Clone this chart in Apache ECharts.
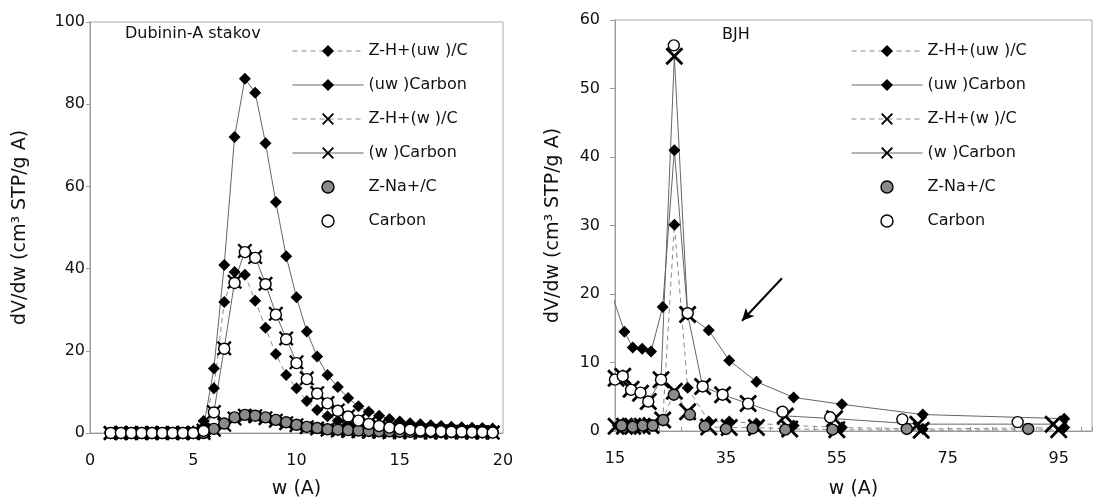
<!DOCTYPE html>
<html><head><meta charset="utf-8">
<script src="https://cdn.jsdelivr.net/npm/echarts@6/dist/echarts.min.js"></script>
<style>html,body{margin:0;padding:0;background:#fff}#c{width:1095px;height:504px}</style>
</head><body><div id="c"></div>
<script>
// ---------- DATA ----------
const seriesNames = ['Z-H+(uw )/C', '(uw )Carbon', 'Z-H+(w )/C', '(w )Carbon', 'Z-Na+/C', 'Carbon'];

// Left panel: Dubinin-Astakov, common x values
const leftX = [1,1.5,2,2.5,3,3.5,4,4.5,5,5.5,6,6.5,7,7.5,8,8.5,9,9.5,10,10.5,11,11.5,12,12.5,13,13.5,14,14.5,15,15.5,16,16.5,17,17.5,18,18.5,19,19.5];
const leftZHuw = [0,0,0,0,0,0,0,0,0.2,2.9,10.9,31.9,39.2,38.5,32.2,25.6,19.2,14.1,10.9,7.8,5.6,4.1,3.0,2.2,1.6,1.2,0.9,0.7,0.5,0.4,0.3,0.3,0.2,0.2,0.2,0.1,0.1,0.1];
const leftUw   = [0,0,0,0,0,0,0,0,0.4,1.5,15.7,40.9,72.0,86.2,82.8,70.5,56.2,43.0,33.0,24.7,18.6,14.1,11.2,8.5,6.5,5.2,4.2,3.4,2.8,2.4,2.1,1.9,1.7,1.5,1.4,1.3,1.2,1.1];
const leftZHw  = [0,0,0,0,0,0,0,0,0,0,0.8,2.0,3.5,4.2,4.1,3.6,3.0,2.4,1.9,1.4,1.1,0.8,0.6,0.5,0.4,0.3,0.3,0.2,0.2,0.2,0.1,0.1,0.1,0.1,0.1,0.1,0.1,0.1];
const leftW    = [0,0,0,0,0,0,0,0,0,0.6,5.1,20.6,36.8,44.3,42.8,36.3,29.0,23.0,17.2,13.3,9.7,7.3,5.5,4.1,3.1,2.3,1.7,1.3,1.0,0.8,0.6,0.5,0.4,0.3,0.3,0.2,0.2,0.1];
const leftNa   = [0,0,0,0,0,0,0,0,0,0,1.0,2.3,3.8,4.4,4.2,3.8,3.2,2.6,2.0,1.5,1.2,0.9,0.8,0.7,0.6,0.5,0.4,0.4,0.3,0.3,0.3,0.2,0.2,0.2,0.2,0.2,0.2,0.2];
const leftC    = [0,0,0,0,0,0,0,0,0,0.5,5.0,20.5,36.5,44.0,42.6,36.2,28.8,22.8,17.0,13.1,9.6,7.2,5.4,4.0,3.0,2.2,1.7,1.3,1.0,0.8,0.6,0.5,0.4,0.3,0.3,0.2,0.2,0.1];

// Right panel: BJH
const rZHuwX = [15.5,16.7,18.2,19.9,21.5,23.6,25.7,28.1,31.9,35.6,40.5,47.2,55.9,70.5,96.0];
const rZHuwY = [0.8,0.8,0.8,0.8,0.9,1.5,30.1,6.3,1.4,1.4,1.1,0.8,0.5,0.3,0.5];
const rUwX   = [14.0,16.7,18.2,19.9,21.5,23.6,25.7,28.1,31.9,35.6,40.5,47.2,55.9,70.5,96.0];
const rUwY   = [21.0,14.5,12.2,12.0,11.6,18.1,41.0,17.0,14.7,10.3,7.2,4.9,3.9,2.4,1.8];
const rZHwX  = [15.2,16.7,18.2,19.9,21.5,23.6,25.7,28.1,31.9,35.6,40.5,46.5,55.0,70.2,95.0];
const rZHwY  = [0.7,0.7,0.7,0.7,0.8,1.6,5.8,2.8,0.6,0.5,0.5,0.3,0.2,0.1,0.2];
const rWX    = [15.2,16.4,17.9,19.6,21.0,23.3,25.7,28.1,30.8,34.4,39.0,45.7,54.6,69.6,94.0];
const rWY    = [7.7,8.0,6.1,5.5,4.3,7.5,54.7,17.0,6.5,5.3,4.0,2.2,1.8,1.0,1.0];
const rNaX   = [16.2,18.2,20.0,21.8,23.7,25.6,28.5,31.2,35.0,39.8,45.7,54.2,67.6,89.5];
const rNaY   = [0.8,0.6,0.8,0.8,1.6,5.3,2.4,0.7,0.3,0.4,0.2,0.2,0.3,0.3];
const rCX    = [15.0,16.4,17.9,19.6,21.0,23.3,25.6,28.1,30.8,34.4,39.0,45.2,53.8,66.8,87.6];
const rCY    = [7.5,8.0,6.0,5.6,4.3,7.5,56.3,17.2,6.5,5.3,4.0,2.8,2.0,1.7,1.3];

// annotation arrow (data coordinates)
const arrowFrom = [45.1, 22.3];
const arrowTo = [37.9, 16.1];

// tick labels
const leftXTicks = [0,5,10,15,20];
const leftYTicks = [0,20,40,60,80,100];
const rightXTicks = [15,35,55,75,95];
const rightYTicks = [0,10,20,30,40,50,60];

// ---------- STYLE ----------
const FONT = '"DejaVu Sans", Verdana, sans-serif';
const TXT = '#111';
const AX = '#9a9a9a';
const XSYM = 'path://M0,1.1L1.1,0L5,3.9L8.9,0L10,1.1L6.1,5L10,8.9L8.9,10L5,6.1L1.1,10L0,8.9L3.9,5Z';
const defs = {
  'Z-H+(uw )/C': {symbol:'diamond', size:[12,12], fill:'#000', bc:'#000', bw:0, lc:'#8a8a8a', lt:[5,4]},
  '(uw )Carbon': {symbol:'diamond', size:[12,12], fill:'#000', bc:'#000', bw:0, lc:'#666', lt:'solid'},
  'Z-H+(w )/C':  {symbol:XSYM, size:[15,18], fill:'#000', bc:'#000', bw:0, lc:'#8a8a8a', lt:[5,4]},
  '(w )Carbon':  {symbol:XSYM, size:[15,18], fill:'#000', bc:'#000', bw:0, lc:'#666', lt:'solid'},
  'Z-Na+/C':     {symbol:'circle', size:[11,11], fill:'#8a8a8a', bc:'#000', bw:1.4, lc:'rgba(0,0,0,0)', lt:'solid'},
  'Carbon':      {symbol:'circle', size:[11,11], fill:'#fff', bc:'#000', bw:1.4, lc:'rgba(0,0,0,0)', lt:'solid'}
};

function pairs(xs, ys){ return xs.map((x,i)=>[x, ys[i]]); }

const leftData = {
  'Z-H+(uw )/C': pairs(leftX, leftZHuw),
  '(uw )Carbon': pairs(leftX, leftUw),
  'Z-H+(w )/C': pairs(leftX, leftZHw),
  '(w )Carbon': pairs(leftX, leftW),
  'Z-Na+/C': pairs(leftX, leftNa),
  'Carbon': pairs(leftX, leftC)
};
const rightData = {
  'Z-H+(uw )/C': pairs(rZHuwX, rZHuwY),
  '(uw )Carbon': pairs(rUwX, rUwY),
  'Z-H+(w )/C': pairs(rZHwX, rZHwY),
  '(w )Carbon': pairs(rWX, rWY),
  'Z-Na+/C': pairs(rNaX, rNaY),
  'Carbon': pairs(rCX, rCY)
};

const series = [];
[leftData, rightData].forEach((set, g) => {
  seriesNames.forEach(name => {
    const d = defs[name];
    series.push({
      name, type:'line', xAxisIndex:g, yAxisIndex:g,
      data:set[name], symbol:d.symbol, symbolSize:d.size[g], showSymbol:true,
      clip:true, animation:false, silent:true,
      itemStyle:{color:d.fill, borderColor:d.bc, borderWidth:d.bw},
      lineStyle:{color:d.lc, width: d.lc.startsWith('rgba') ? 0 : 1, type:d.lt},
      emphasis:{disabled:true}
    });
  });
});
// arrow annotation on right panel
series.push({
  type:'line', xAxisIndex:1, yAxisIndex:1, data:[], silent:true, animation:false,
  markLine:{silent:true, symbol:['none','arrow'], symbolSize:[9,12],
    label:{show:false}, lineStyle:{color:'#000', width:2, type:'solid'},
    emphasis:{disabled:true},
    data:[[{coord:arrowFrom},{coord:arrowTo}]]}
});

function legendData(){
  return seriesNames.map(name => {
    const d = defs[name];
    return {name, itemStyle:{color:d.fill, borderColor:d.bc, borderWidth:d.bw},
      lineStyle:{color:d.lc, width: d.lc.startsWith('rgba') ? 0 : 1, type:d.lt}};
  });
}
const legendCommon = {orient:'vertical', top:38, itemWidth:71, itemHeight:15, itemGap:18, padding:5,
  selectedMode:false, textStyle:{fontFamily:FONT, fontSize:16, color:TXT, lineHeight:15}};

function fmt(list){ return v => list.indexOf(Math.round(v*1000)/1000) >= 0 ? String(v) : ''; }

const yName = 'dV/dw (cm³ STP/g A)';
const option = {
  backgroundColor:'#fff',
  animation:false,
  title:[
    {text:'Dubinin-A stakov', left:120, top:21, textStyle:{fontFamily:FONT, fontSize:16, fontWeight:'normal', color:TXT}},
    {text:'BJH', left:717, top:22, textStyle:{fontFamily:FONT, fontSize:16, fontWeight:'normal', color:TXT}}
  ],
  legend:[
    Object.assign({left:287, data:legendData()}, legendCommon),
    Object.assign({left:846, data:legendData()}, legendCommon)
  ],
  grid:[
    {left:90, top:22, width:413, height:413, show:true, borderColor:'#aaa', borderWidth:1, containLabel:false},
    {left:615, top:20, width:482, height:413, show:true, borderColor:'#aaa', borderWidth:1, containLabel:false}
  ],
  xAxis:[
    {type:'value', gridIndex:0, min:0, max:20, interval:5,
     name:'w (A)', nameLocation:'middle', nameGap:47,
     nameTextStyle:{fontFamily:FONT, fontSize:19, color:TXT},
     axisLine:{show:true, lineStyle:{color:AX}}, axisTick:{show:false},
     axisLabel:{fontFamily:FONT, fontSize:16, color:TXT, margin:20, formatter:fmt(leftXTicks)},
     splitLine:{show:false}},
    {type:'value', gridIndex:1, min:15, max:101, interval:20,
     name:'w (A)', nameLocation:'middle', nameGap:49,
     nameTextStyle:{fontFamily:FONT, fontSize:19, color:TXT},
     axisLine:{show:true, lineStyle:{color:AX}},
     axisTick:{show:true, inside:true, length:4, lineStyle:{color:AX}},
     minorTick:{show:true, splitNumber:5, length:4, lineStyle:{color:AX}},
     axisLabel:{fontFamily:FONT, fontSize:16, color:TXT, margin:20, formatter:fmt(rightXTicks)},
     splitLine:{show:false}}
  ],
  yAxis:[
    {type:'value', gridIndex:0, min:0, max:100, interval:20,
     name:yName, nameLocation:'middle', nameGap:60, nameRotate:90,
     nameTextStyle:{fontFamily:FONT, fontSize:19, color:TXT},
     axisLine:{show:true, lineStyle:{color:AX}},
     axisTick:{show:true, length:4, lineStyle:{color:AX}},
     axisLabel:{fontFamily:FONT, fontSize:16, color:TXT, margin:5, formatter:fmt(leftYTicks)},
     splitLine:{show:false}},
    {type:'value', gridIndex:1, min:0, max:60, interval:10,
     name:yName, nameLocation:'middle', nameGap:52, nameRotate:90,
     nameTextStyle:{fontFamily:FONT, fontSize:19, color:TXT},
     axisLine:{show:true, lineStyle:{color:AX}},
     axisTick:{show:true, length:5, lineStyle:{color:AX}},
     axisLabel:{fontFamily:FONT, fontSize:16, color:TXT, margin:15, formatter:fmt(rightYTicks)},
     splitLine:{show:false}}
  ],
  series
};
const chart = echarts.init(document.getElementById('c'), null, {renderer:'canvas'});
chart.setOption(option);
</script></body></html>
